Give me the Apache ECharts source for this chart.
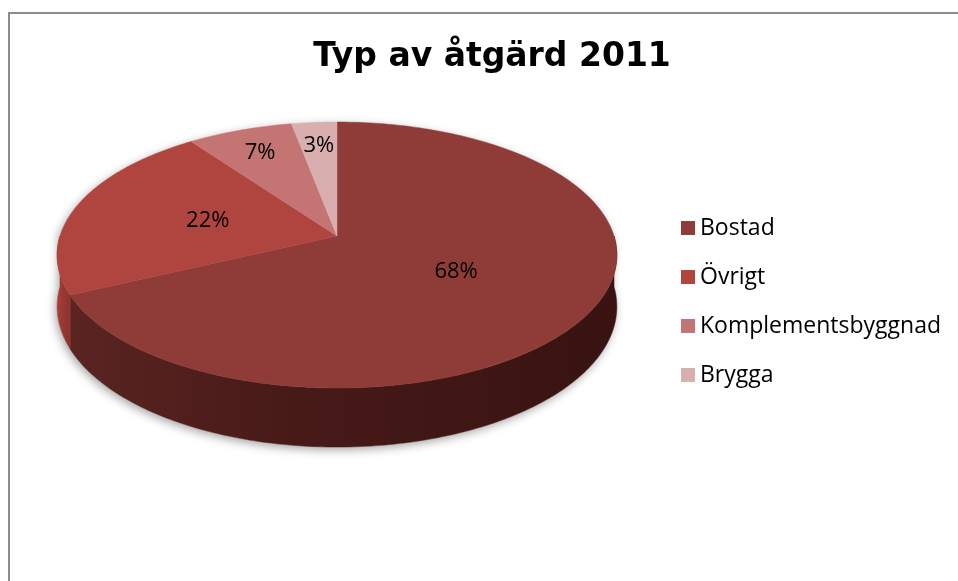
<!DOCTYPE html>
<html>
<head>
<meta charset="utf-8">
<script src="https://cdn.jsdelivr.net/npm/echarts@6/dist/echarts.min.js"></script>
<style>
  html, body { margin: 0; padding: 0; background: #fff; }
  #chart { width: 958px; height: 581px; }
</style>
</head>
<body>
<div id="chart"></div>
<script>
// data
const categories = ['Bostad', 'Övrigt', 'Komplementsbyggnad', 'Brygga'];
const shares = [68, 22, 7, 3];

// colours (top face, side wall)
const topColors = ['#8f3b38', '#b0443f', '#c47472', '#d8afae'];
const sideColors = [
  ['#5a2421', '#471a18', '#381311'],
  ['#a83f3a', '#9a3934', '#8c322e'],
  ['#a85e5c', '#9a5552', '#8e4d4b'],
  ['#b99391', '#ad8987', '#a17e7c']
];

// fake 3d perspective of the pie
const CX = 337, CY = 236;   // centre of top face
const RX = 277, RY = 130.3; // radii
const PERSP = 0.1429;       // how much the front is enlarged
const DEPTH = 50.6;         // thickness

const total = shares.reduce((a, b) => a + b, 0);

function proj(theta, f, h) {
  const u = Math.sin(theta) * f;
  const v = -Math.cos(theta) * f;
  const den = 1 - PERSP * v;
  return [CX + RX * u / den, CY + (RY * v + h) / den];
}

function arcPoints(a0, a1, h) {
  const pts = [];
  const n = Math.max(2, Math.ceil(Math.abs(a1 - a0) / (Math.PI / 180)));
  for (let k = 0; k <= n; k++) {
    pts.push(proj(a0 + (a1 - a0) * k / n, 1, h));
  }
  return pts;
}

function sliceAngles(i) {
  let before = 0;
  for (let k = 0; k < i; k++) before += shares[k];
  const start = before / total * Math.PI * 2;
  const end = (before + shares[i]) / total * Math.PI * 2;
  return [start, end];
}

function renderSide(i, api) {
  const [start, end] = sliceAngles(i);
  const s0 = Math.max(start, Math.PI / 2);
  const s1 = Math.min(end, Math.PI * 1.5);
  if (s0 >= s1) return { type: 'group', children: [] };
  const pts = arcPoints(s0, s1, 0).concat(arcPoints(s1, s0, DEPTH));
  const xs = pts.map(p => p[0]);
  const x0 = Math.min(...xs), x1 = Math.max(...xs);
  const c = sideColors[i];
  return {
    type: 'polygon',
    shape: { points: pts },
    style: {
      fill: new echarts.graphic.LinearGradient(x1, 0, x0, 0, [
        { offset: 0, color: c[2] },
        { offset: 0.6, color: c[1] },
        { offset: 1, color: c[0] }
      ], true),
      stroke: c[1],
      lineWidth: 0.5
    }
  };
}

function renderTop(i, api) {
  const [start, end] = sliceAngles(i);
  const pts = [proj(0, 0, 0)].concat(arcPoints(start, end, 0));
  const mid = (start + end) / 2;
  const f = shares[i] / total > 0.1 ? 0.49 : 0.77;
  const lp = proj(mid, f, 0);
  return {
    type: 'group',
    children: [
      {
        type: 'polygon',
        shape: { points: pts },
        style: { fill: topColors[i], stroke: topColors[i], lineWidth: 0.5 }
      },
      {
        type: 'text',
        x: lp[0],
        y: lp[1],
        style: {
          text: shares[i] + '%',
          fill: '#000',
          font: '22px "Open Sans"',
          align: 'center',
          verticalAlign: 'middle'
        },
        z2: 10
      }
    ]
  };
}

function renderShadow() {
  const pts = arcPoints(-Math.PI / 2, Math.PI / 2, 0)
    .concat(arcPoints(Math.PI / 2, Math.PI * 1.5, DEPTH));
  return {
    type: 'polygon',
    shape: { points: pts },
    style: {
      fill: '#fff',
      shadowColor: 'rgba(0,0,0,0.35)',
      shadowBlur: 10,
      shadowOffsetX: -2,
      shadowOffsetY: 3
    }
  };
}

const series = [{
  name: 'shadow',
  type: 'custom',
  coordinateSystem: 'none',
  silent: true,
  data: [[total]],
  renderItem: () => renderShadow()
}];
categories.forEach((name, i) => {
  series.push({
    name: name,
    type: 'custom',
    coordinateSystem: 'none',
    silent: true,
    z: 2,
    itemStyle: { color: topColors[i] },
    data: [[shares[i]]],
    renderItem: (params, api) => renderSide(i, api)
  });
});
categories.forEach((name, i) => {
  series.push({
    name: name,
    type: 'custom',
    coordinateSystem: 'none',
    silent: true,
    z: 3,
    itemStyle: { color: topColors[i] },
    data: [[shares[i]]],
    renderItem: (params, api) => renderTop(i, api)
  });
});

const chart = echarts.init(document.getElementById('chart'));
chart.setOption({
  animation: false,
  backgroundColor: '#fff',
  title: {
    text: 'Typ av åtgärd 2011',
    left: 487,
    top: 36,
    textAlign: 'center',
    textStyle: {
      fontFamily: 'DejaVu Sans',
      fontWeight: 'bold',
      fontSize: 33,
      color: '#000'
    }
  },
  legend: {
    orient: 'vertical',
    left: 676,
    top: 211,
    icon: 'rect',
    itemWidth: 14,
    itemHeight: 14,
    itemGap: 25,
    selectedMode: false,
    data: categories,
    textStyle: {
      fontFamily: 'Open Sans',
      fontSize: 23,
      color: '#000',
      lineHeight: 24
    }
  },
  graphic: [{
    type: 'rect',
    shape: { x: 9, y: 13, width: 1200, height: 1000 },
    style: { fill: 'none', stroke: '#8c8c8c', lineWidth: 2 },
    silent: true
  }],
  series: series
});
</script>
</body>
</html>
